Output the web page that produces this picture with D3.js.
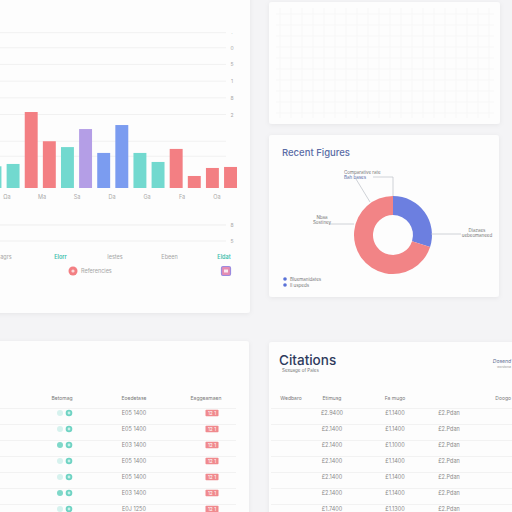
<!DOCTYPE html>
<html><head><meta charset="utf-8">
<script src="https://cdn.jsdelivr.net/npm/d3@7/dist/d3.min.js"></script>
<style>
html,body{margin:0;padding:0;background:#f4f4f6;}
svg{display:block;font-family:Inter,"Noto Sans",sans-serif;}
</style></head>
<body><svg id="c" width="512" height="512"></svg>
<script>
// ---------- DATA ----------
const barCats = ["B1","B2","B3","B4","B5","B6","B7","B8","B9","B10","B11","B12","B13","B14"];
const barValues = [13, 14.4, 45.5, 28, 24.5, 35.3, 21, 37.7, 21, 15.6, 23.4, 7.2, 12, 12.6];
const barSeries = ["Teal","Teal","Coral","Coral","Teal","Violet","Blue","Blue","Teal","Teal","Coral","Coral","Coral","Coral"];
const seriesNames = ["Teal","Coral","Violet","Blue"];
const xLabels = ["Ωa","Ma","Sa","Da","Ga","Fa","Oa"];
const yGridValues = [19, 28, 44, 54, 64, 74, 84, 93];
const yTickValues = [44, 54, 64, 74, 84, 93];
const yTickLabels = ["2","8","1","5","0","·"];
const lowerTickValues = [5, 8];
const lowerTickLabels = ["5","8"];
const lowerNames = ["agrs","Elorr","Iestes","Ebeen","Eldat"];
const lowerHighlight = [false,true,false,false,true];
const legendText = "Referencies";

const pieLabels = ["Comparative rate","Market share"];
const pieValues = [30, 70];
const pieTitle = "Recent Figures";
const calloutTop = ["Comparative rate","Bah bases"];
const calloutLeft = ["Nbaa","Sostiney"];
const calloutRight = ["Diazaes","uebeomaneed"];
const pieLegend = ["Bluemanidates","Il uspeds"];

const leftHeaders = ["Betomag","Eoedetase","Eaggeamaen"];
const leftStatus = [0,0,1,0,0,1,0];
const leftDates = ["E05 1400","E05 1400","E03 1400","E05 1400","E05 1400","E03 1400","E0J 1250"];
const leftBadge = ["12 1","12 1","12 1","12 1","12 1","12 1","12 1"];

const citTitle = "Citations";
const citSub = "Sexuage of Pales";
const citCorner = ["Dosend","wostona"];
const rightHeaders = ["Wedbaro","Etimusg","Fa mugo","","Doogo"];
const colA = ["£2.9400","£2.1400","£2.1400","£2.1400","£2.1400","£2.1400","£1.7400"];
const colB = ["£1.1400","£1.1400","£1.1000","£1.1400","£1.1400","£1.1400","£1.1300"];
const colC = ["£2.Pdan","£2.Pdan","£2.Pdan","£2.Pdan","£2.Pdan","£2.Pdan","£2.Pdan"];

// ---------- SETUP ----------
const svg = d3.select("#c");
const defs = svg.append("defs");
const f = defs.append("filter").attr("id","sh").attr("x","-10%").attr("y","-10%").attr("width","120%").attr("height","120%");
f.append("feDropShadow").attr("dx",0).attr("dy",1).attr("stdDeviation",2.5).attr("flood-color","#000").attr("flood-opacity",0.06);

function card(x,y,w,h){
  svg.append("rect").attr("x",x).attr("y",y).attr("width",w).attr("height",h)
    .attr("rx",3).attr("fill","#fdfdfd").attr("filter","url(#sh)");
}
card(-12,-12,262,325);
card(269,2,231,122);
card(269,135,230,162);
card(-12,341,261,190);
card(269,342,260,190);

const color = d3.scaleOrdinal().domain(seriesNames).range(["#72d9cf","#f37f83","#b49ee6","#7b9cf0"]);
const grey = "#a5a5a5";

// ---------- BAR CHART ----------
const gb = svg.append("g");
const y = d3.scaleLinear().domain([0,100]).range([188,21]);
const x = d3.scaleBand().domain(barCats).range([-11.5,237]).paddingInner(0.286).paddingOuter(0);

gb.selectAll("line.g").data(yGridValues).join("line")
  .attr("x1",0).attr("x2",226).attr("y1",d=>y(d)).attr("y2",d=>y(d))
  .attr("stroke","#f1f1f1").attr("stroke-width",1);
gb.selectAll("text.yt").data(yTickValues).join("text")
  .attr("x",232).attr("y",(d)=>y(d)+2).attr("font-size",5).attr("fill","#aaa")
  .attr("text-anchor","middle").text((d,i)=>yTickLabels[i]);

gb.selectAll("rect.bar").data(barValues).join("rect")
  .attr("x",(d,i)=>x(barCats[i])).attr("width",x.bandwidth())
  .attr("y",d=>y(d)).attr("height",d=>y(0)-y(d))
  .attr("fill",(d,i)=>color(barSeries[i]));

const xl = d3.scalePoint().domain(xLabels).range([7,217]);
gb.selectAll("text.xl").data(xLabels).join("text")
  .attr("x",d=>xl(d)).attr("y",199).attr("font-size",5.5).attr("fill","#aaa")
  .attr("text-anchor","middle").text(d=>d);

// lower mini section
const y2 = d3.scaleLinear().domain([0,10]).range([267.7,214.3]);
gb.selectAll("line.l2").data(lowerTickValues).join("line")
  .attr("x1",0).attr("x2",226).attr("y1",d=>y2(d)).attr("y2",d=>y2(d))
  .attr("stroke","#efefef");
gb.selectAll("text.l2").data(lowerTickValues).join("text")
  .attr("x",232).attr("y",d=>y2(d)+2).attr("font-size",5).attr("fill","#aaa")
  .attr("text-anchor","middle").text((d,i)=>lowerTickLabels[i]);
const xn = d3.scalePoint().domain(lowerNames).range([6,224]);
gb.selectAll("text.ln").data(lowerNames).join("text")
  .attr("x",d=>xn(d)).attr("y",259).attr("font-size",5.5)
  .attr("fill",(d,i)=>lowerHighlight[i]?"#3fbfae":grey)
  .attr("font-weight",(d,i)=>lowerHighlight[i]?600:400)
  .attr("text-anchor","middle").text(d=>d);
gb.append("circle").attr("cx",73).attr("cy",271).attr("r",4.5).attr("fill",color("Coral"));
gb.append("circle").attr("cx",73).attr("cy",271).attr("r",1.6).attr("fill","#fff").attr("opacity",0.7);
gb.append("text").attr("x",81).attr("y",273).attr("font-size",5.5).attr("fill",grey).text(legendText);
gb.append("rect").attr("x",221.5).attr("y",266.5).attr("width",9).attr("height",9).attr("rx",1.5)
  .attr("fill","#e58db3").attr("stroke","#9b8be0").attr("stroke-width",1.2);
gb.append("rect").attr("x",224).attr("y",269.5).attr("width",4).attr("height",3).attr("fill","#fff").attr("opacity",0.8);

// ---------- EMPTY CARD GRID ----------
const gg = svg.append("g");
const gx = d3.range(280,500,11), gy = d3.range(14,122,11);
gg.selectAll("line.v").data(gx).join("line").attr("x1",d=>d).attr("x2",d=>d).attr("y1",8).attr("y2",118).attr("stroke","#f7f7f7");
gg.selectAll("line.h").data(gy).join("line").attr("y1",d=>d).attr("y2",d=>d).attr("x1",276).attr("x2",494).attr("stroke","#f7f7f7");

// ---------- DONUT ----------
const gp = svg.append("g");
gp.append("text").attr("x",282).attr("y",156).attr("font-size",9.5).attr("font-weight",500)
  .attr("fill","#5a6ca6").text(pieTitle);
const cx=393, cy=235;
const pie = d3.pie().sort(null).value(d=>d)(pieValues);
const arc = d3.arc().innerRadius(20).outerRadius(39);
gp.selectAll("path").data(pie).join("path")
  .attr("transform",`translate(${cx},${cy})`).attr("d",arc)
  .attr("fill",(d,i)=>i===0?"#6c7fe0":"#f28486");
const lc = "#c3c6cd";
gp.append("polyline").attr("points","373,177 393,177 393,196").attr("fill","none").attr("stroke",lc).attr("stroke-width",0.8);
gp.append("line").attr("x1",356).attr("y1",179).attr("x2",370).attr("y2",202).attr("stroke",lc).attr("stroke-width",0.8);
gp.append("line").attr("x1",329).attr("y1",224).attr("x2",354).attr("y2",224).attr("stroke",lc).attr("stroke-width",0.8);
gp.append("line").attr("x1",431).attr("y1",234).attr("x2",461).attr("y2",234).attr("stroke",lc).attr("stroke-width",0.8);
gp.selectAll("text.ct").data(calloutTop).join("text").attr("x",344).attr("y",(d,i)=>174+i*4.5)
  .attr("font-size",4.5).attr("fill",(d,i)=>i?"#5567a3":"#777").text(d=>d);
gp.selectAll("text.cl").data(calloutLeft).join("text").attr("x",322).attr("y",(d,i)=>219+i*5)
  .attr("font-size",4.5).attr("fill","#777").attr("text-anchor","middle").text(d=>d);
gp.selectAll("text.cr").data(calloutRight).join("text").attr("x",477).attr("y",(d,i)=>232+i*5)
  .attr("font-size",4.5).attr("fill","#777").attr("text-anchor","middle").text(d=>d);
gp.selectAll("circle.lg").data(pieLegend).join("circle").attr("cx",285).attr("cy",(d,i)=>279+i*6).attr("r",1.8).attr("fill","#5a72d8");
gp.selectAll("text.lg").data(pieLegend).join("text").attr("x",290).attr("y",(d,i)=>281+i*6)
  .attr("font-size",4.5).attr("fill","#777").text(d=>d);

// ---------- LEFT TABLE ----------
const gt = svg.append("g");
const rowY = d3.scaleLinear().domain([0,6]).range([413,509]);
const colL = d3.scalePoint().domain(leftHeaders).range([62,206]);
gt.selectAll("text.h").data(leftHeaders).join("text").attr("x",d=>colL(d)).attr("y",400)
  .attr("font-size",5).attr("fill","#777").attr("text-anchor","middle").text(d=>d);
gt.selectAll("line.r").data(d3.range(7)).join("line").attr("x1",0).attr("x2",236)
  .attr("y1",d=>rowY(d)-4.5).attr("y2",d=>rowY(d)-4.5).attr("stroke","#f2f2f2");
leftStatus.forEach((s,i)=>{
  const yy=rowY(i);
  gt.append("circle").attr("cx",60).attr("cy",yy).attr("r",3).attr("fill",s?"#7fd8c9":"#d6f2ee");
  gt.append("circle").attr("cx",69).attr("cy",yy).attr("r",3.3).attr("fill","#6fd3c3");
  gt.append("circle").attr("cx",69).attr("cy",yy).attr("r",1.4).attr("fill","#c9f1ea");
  gt.append("text").attr("x",colL(leftHeaders[1])).attr("y",yy+2).attr("font-size",5.5).attr("fill","#8a8a8a")
    .attr("text-anchor","middle").text(leftDates[i]);
  gt.append("rect").attr("x",205.5).attr("y",yy-3.2).attr("width",13).attr("height",6.5).attr("rx",0.8).attr("fill","#f08a8e");
  gt.append("text").attr("x",212).attr("y",yy+1.8).attr("font-size",4.8).attr("fill","#fff").attr("text-anchor","middle").text(leftBadge[i]);
});

// ---------- RIGHT TABLE ----------
const gr = svg.append("g");
gr.append("text").attr("x",279).attr("y",365).attr("font-size",13.5).attr("font-weight",500).attr("fill","#2e3a5c").text(citTitle);
gr.append("text").attr("x",282).attr("y",372).attr("font-size",4.5).attr("fill","#777").text(citSub);
gr.append("text").attr("x",511).attr("y",363).attr("font-size",5).attr("font-style","italic").attr("text-anchor","end").attr("fill","#5a6a90").text(citCorner[0]);
gr.append("text").attr("x",511).attr("y",367.5).attr("font-size",3.5).attr("text-anchor","end").attr("fill","#999").text(citCorner[1]);
const colR = [291, 332, 395, 449, 511];
gr.selectAll("text.h").data(rightHeaders).join("text").attr("x",(d,i)=>colR[i]).attr("y",400)
  .attr("font-size",5).attr("fill","#777").attr("text-anchor",(d,i)=>i===4?"end":"middle").text(d=>d);
gr.selectAll("line.r").data(d3.range(7)).join("line").attr("x1",271).attr("x2",512)
  .attr("y1",d=>rowY(d)-4.5).attr("y2",d=>rowY(d)-4.5).attr("stroke","#f2f2f2");
[colA,colB,colC].forEach((col,k)=>{
  gr.selectAll("text.c"+k).data(col).join("text").attr("x",colR[k+1]).attr("y",(d,i)=>rowY(i)+2)
    .attr("font-size",5.5).attr("fill","#8a8a8a").attr("text-anchor","middle").text(d=>d);
});
</script></body></html>
